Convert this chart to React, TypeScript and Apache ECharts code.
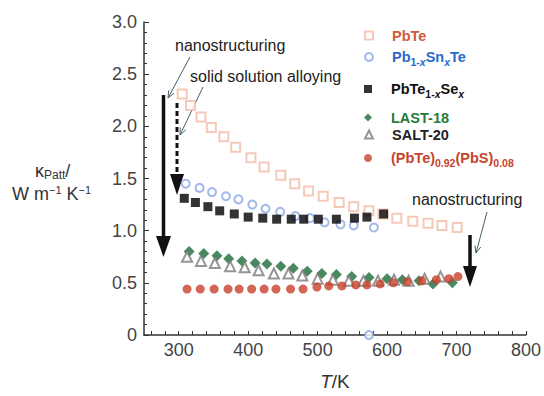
import React, { useEffect, useRef } from "react";
import * as echarts from "echarts";

const FONT = "'Liberation Sans', Arial, Helvetica, sans-serif";

// Axis ticks / labels
const X_LABELS = [300, 400, 500, 600, 700, 800];
const X_TICKS = [260, 280, 300, 320, 340, 360, 380, 400, 420, 440, 460, 480, 500, 520, 540, 560, 580, 600, 620, 640, 660, 680, 700, 720, 740, 760, 780, 800];

// Series names
const NAMES = ["PbTe", "Pb1-xSnxTe", "PbTe1-xSex", "LAST-18", "SALT-20", "(PbTe)0.92(PbS)0.08"];

// PbTe
const PBTE_T = [305, 317, 332, 347, 365, 382, 404, 423, 447, 467, 487, 508, 531, 552, 574, 594, 614, 637, 659, 679, 701];
const PBTE_K = [2.31, 2.2, 2.09, 1.99, 1.9, 1.8, 1.7, 1.61, 1.53, 1.45, 1.38, 1.33, 1.27, 1.23, 1.19, 1.16, 1.12, 1.09, 1.07, 1.05, 1.03];

// Pb1-xSnxTe
const SNTE_T = [310, 330, 348, 368, 386, 406, 425, 446, 468, 489, 510, 533, 552, 574, 581];
const SNTE_K = [1.45, 1.41, 1.37, 1.33, 1.3, 1.25, 1.21, 1.18, 1.14, 1.12, 1.08, 1.06, 1.05, 0.0, 1.03];

// PbTe1-xSex
const SE_T = [308, 324, 342, 359, 380, 400, 421, 441, 462, 480, 501, 527, 553, 571, 595];
const SE_K = [1.31, 1.27, 1.23, 1.19, 1.16, 1.13, 1.12, 1.11, 1.11, 1.11, 1.11, 1.11, 1.12, 1.13, 1.16];

// LAST-18
const LAST_T = [315, 336, 355, 372, 391, 410, 427, 447, 465, 485, 506, 527, 549, 574, 600, 622, 646, 666, 694];
const LAST_K = [0.8, 0.78, 0.76, 0.73, 0.71, 0.69, 0.68, 0.66, 0.64, 0.61, 0.59, 0.58, 0.56, 0.55, 0.54, 0.53, 0.52, 0.49, 0.5];

// SALT-20
const SALT_T = [312, 332, 352, 374, 395, 415, 437, 458, 478, 500, 522, 545, 566, 587, 610, 631, 654, 677];
const SALT_K = [0.75, 0.71, 0.69, 0.66, 0.65, 0.62, 0.59, 0.59, 0.57, 0.54, 0.53, 0.52, 0.52, 0.52, 0.53, 0.52, 0.54, 0.56];

// (PbTe)0.92(PbS)0.08
const PBS_T = [312, 331, 351, 371, 387, 405, 423, 440, 461, 479, 499, 516, 535, 555, 571, 590, 609, 629, 650, 671, 689, 702];
const PBS_K = [0.44, 0.44, 0.44, 0.44, 0.44, 0.44, 0.44, 0.44, 0.44, 0.44, 0.46, 0.47, 0.47, 0.48, 0.48, 0.49, 0.5, 0.51, 0.52, 0.53, 0.54, 0.56];

const zip = (a: number[], b: number[]) => a.map((t, i) => [t, b[i]]);

function richFor(color: string) {
  const base = { fontFamily: FONT, fontWeight: "bold" as const, color };
  return {
    g: { ...base, fontSize: 14.5, lineHeight: 18, width: 14 },
    a: { ...base, fontSize: 14.5, lineHeight: 18 },
    s: { ...base, fontSize: 10.5, lineHeight: 12, padding: [9, 0, 0, 0] },
    si: { ...base, fontSize: 10.5, lineHeight: 12, fontStyle: "italic" as const, padding: [9, 0, 0, 0] },
  };
}

const LEGEND_FMT: Record<string, string> = {
  "PbTe": "{g| }{a|PbTe}",
  "Pb1-xSnxTe": "{g| }{a|Pb}{s|1-}{si|x}{a|Sn}{si|x}{a|Te}",
  "PbTe1-xSex": "{g| }{a|PbTe}{s|1-}{si|x}{a|Se}{si|x}",
  "LAST-18": "{g| }{a|LAST-18}",
  "SALT-20": "{g| }{a|SALT-20}",
  "(PbTe)0.92(PbS)0.08": "{g| }{a|(PbTe)}{s|0.92}{a|(PbS)}{s|0.08}",
};

const LEGEND_COLORS = ["#cf5a3c", "#2b68cc", "#111111", "#2a7a3c", "#222222", "#c5442c"];
const LEGEND_TOPS = [28, 47, 79, 110, 127, 148];

function arrowV(x1: number, y1: number, x2: number, y2: number, color: string) {
  const dx = x2 - x1, dy = y2 - y1;
  const len = Math.sqrt(dx * dx + dy * dy);
  const ux = dx / len, uy = dy / len;
  const h = 7, w = 3;
  const bx = x2 - ux * h, by = y2 - uy * h;
  return [
    { type: "line", shape: { x1, y1, x2, y2 }, style: { stroke: color, lineWidth: 1 }, silent: true },
    {
      type: "polyline",
      shape: { points: [[bx - uy * w, by + ux * w], [x2, y2], [bx + uy * w, by - ux * w]] },
      style: { stroke: color, lineWidth: 1, fill: null },
      silent: true,
    },
  ];
}

export default function App() {
  const ref = useRef<HTMLDivElement>(null);
  useEffect(() => {
    if (!ref.current) return;
    const chart = echarts.init(ref.current, null, { renderer: "svg" });
    const axisColor = "#333";
    const labelColor = "#444";
    const series: any[] = [
      { name: NAMES[0], data: zip(PBTE_T, PBTE_K), symbol: "emptyRect", symbolSize: 9, itemStyle: { color: "#f2bba6", borderWidth: 1.6 } },
      { name: NAMES[1], data: zip(SNTE_T, SNTE_K), symbol: "emptyCircle", symbolSize: 8, itemStyle: { color: "#8aa8e8", borderWidth: 1.3 } },
      { name: NAMES[2], data: zip(SE_T, SE_K), symbol: "rect", symbolSize: 9, itemStyle: { color: "#000000" } },
      { name: NAMES[3], data: zip(LAST_T, LAST_K), symbol: "diamond", symbolSize: 11, itemStyle: { color: "#1d6b38" } },
      { name: NAMES[4], data: zip(SALT_T, SALT_K), symbol: "emptyTriangle", symbolSize: 10, itemStyle: { color: "#7a7a7a", borderWidth: 1.2 } },
      { name: NAMES[5], data: zip(PBS_T, PBS_K), symbol: "circle", symbolSize: 9, itemStyle: { color: "#c8412a" } },
    ].map((s) => ({ ...s, type: "scatter", xAxisIndex: 0, yAxisIndex: 0, clip: false }));

    const legends = NAMES.map((n, i) => ({
      data: [n],
      left: 364,
      top: LEGEND_TOPS[i],
      padding: 0,
      orient: "vertical",
      itemWidth: 8,
      itemHeight: 8,
      selectedMode: false,
      formatter: (name: string) => LEGEND_FMT[name],
      textStyle: { rich: richFor(LEGEND_COLORS[i]) },
    }));

    const txt = { fontFamily: FONT, fontSize: 16, fill: "#222" };
    const thin = "#45606c";

    chart.setOption({
      animation: false,
      backgroundColor: "#ffffff",
      grid: { left: 144, right: 16, top: 22, bottom: 52, containLabel: false },
      legend: legends,
      xAxis: {
        type: "value", min: 250, max: 800, interval: 50,
        axisLine: { show: true, lineStyle: { color: axisColor, width: 1.5 } },
        axisTick: { show: true, inside: true, length: 4, customValues: X_TICKS, lineStyle: { color: axisColor } },
        axisLabel: { customValues: X_LABELS, fontSize: 18, color: labelColor, fontFamily: FONT, margin: 6 },
        splitLine: { show: false },
        name: "{i|T}{n|/}{n|K}",
        nameLocation: "middle",
        nameGap: 37,
        nameTextStyle: {
          rich: {
            i: { fontFamily: FONT, fontSize: 19, fontStyle: "italic", color: "#333" },
            n: { fontFamily: FONT, fontSize: 19, color: "#333" },
          },
        },
      },
      yAxis: {
        type: "value", min: 0, max: 3, interval: 0.5,
        axisLine: { show: true, lineStyle: { color: axisColor, width: 1.5 } },
        axisTick: { show: true, inside: true, length: 5, lineStyle: { color: axisColor } },
        minorTick: { show: true, splitNumber: 5, length: 3, lineStyle: { color: axisColor } },
        axisLabel: {
          fontSize: 18, color: labelColor, fontFamily: FONT, margin: 7,
          formatter: (v: number) => (v === 0 ? "0" : v.toFixed(1)),
        },
        splitLine: { show: false },
      },
      series,
      graphic: [
        {
          type: "text", left: 35, top: 160, silent: true,
          style: {
            text: "{k|κ}{s|Patt}{k|/}",
            rich: {
              k: { fontFamily: FONT, fontSize: 18, fill: "#333", lineHeight: 20 },
              s: { fontFamily: FONT, fontSize: 12, fill: "#333", lineHeight: 12, padding: [9, 0, 0, 0] },
            },
          },
        },
        {
          type: "text", left: 12, top: 184, silent: true,
          style: {
            text: "{a|W m}{p|−1}{a| K}{p|−1}",
            rich: {
              a: { fontFamily: FONT, fontSize: 18, fill: "#333", lineHeight: 20 },
              p: { fontFamily: FONT, fontSize: 11, fill: "#333", lineHeight: 12, padding: [0, 0, 9, 0] },
            },
          },
        },
        { type: "text", left: 175, top: 37, silent: true, style: { ...txt, text: "nanostructuring" } },
        { type: "text", left: 190, top: 68, silent: true, style: { ...txt, text: "solid solution alloying" } },
        { type: "text", left: 412, top: 191, silent: true, style: { ...txt, text: "nanostructuring" } },
        // solid arrow (left)
        { type: "line", shape: { x1: 163.5, y1: 95, x2: 163.5, y2: 240 }, style: { stroke: "#111", lineWidth: 3.5 }, silent: true },
        { type: "polygon", shape: { points: [[156, 236], [171, 236], [163.5, 257]] }, style: { fill: "#111" }, silent: true },
        // dashed arrow
        { type: "line", shape: { x1: 177, y1: 103, x2: 177, y2: 177 }, style: { stroke: "#111", lineWidth: 3, lineDash: [5, 3] }, silent: true },
        { type: "polygon", shape: { points: [[170, 174], [184, 174], [177, 195]] }, style: { fill: "#111" }, silent: true },
        // right arrow
        { type: "line", shape: { x1: 470, y1: 235, x2: 470, y2: 270 }, style: { stroke: "#111", lineWidth: 3.5 }, silent: true },
        { type: "polygon", shape: { points: [[463, 266], [477, 266], [470, 287]] }, style: { fill: "#111" }, silent: true },
        ...arrowV(190, 57, 168, 98, thin),
        ...arrowV(203, 87, 180, 135, thin),
        ...arrowV(487, 212, 476, 253, thin),
      ],
    });
    return () => chart.dispose();
  }, []);
  return (
    <div
      ref={ref}
      style={{ position: "fixed", left: 0, top: 0, width: 544, height: 396, background: "#fff" }}
    />
  );
}
